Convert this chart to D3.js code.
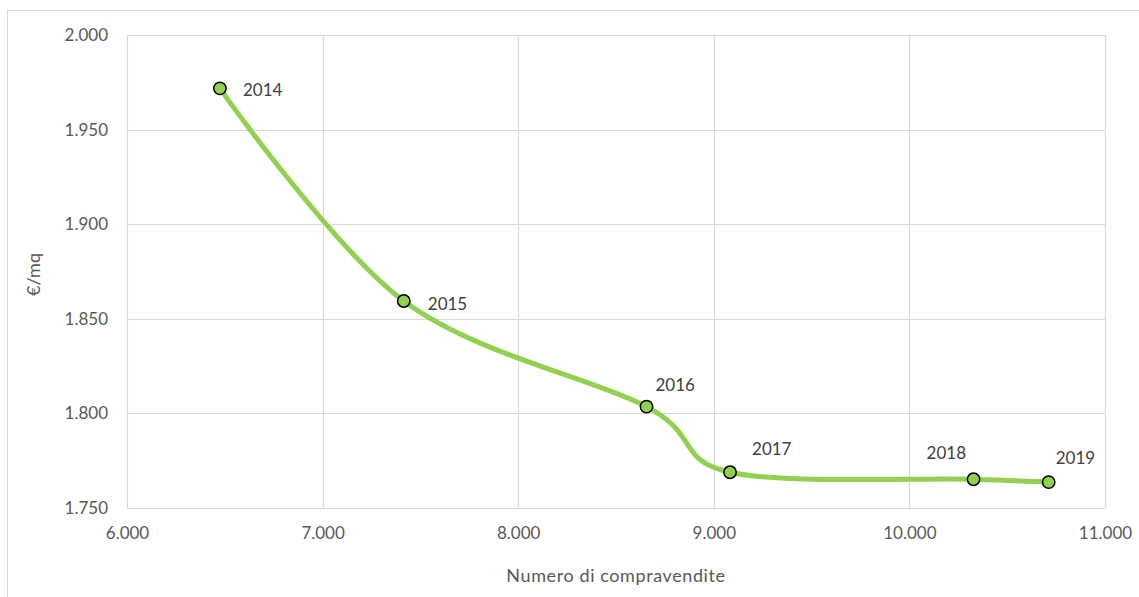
<!DOCTYPE html>
<html>
<head>
<meta charset="utf-8">
<script src="https://cdn.jsdelivr.net/npm/d3@7"></script>
<style>
  html, body { margin: 0; padding: 0; background: #fff; }
  svg { display: block; font-family: Lato, "Open Sans", sans-serif; }
</style>
</head>
<body>
<svg id="chart" width="1139" height="597"></svg>
<script>
// Sales volume vs. price per square metre, one point per year
const years = ["2014", "2015", "2016", "2017", "2018", "2019"];
const compravendite = [6475, 7415, 8656, 9083, 10328, 10712];
const prezzoMq = [1971.8, 1859.4, 1803.6, 1768.9, 1765.2, 1763.7];

const xTicks = [6000, 7000, 8000, 9000, 10000, 11000];
const yTicks = [1750, 1800, 1850, 1900, 1950, 2000];

// Where each year label sits relative to its marker
const labelDx = [23, 24, 9, 22, -47, 7];
const labelDy = [2, 3, -22, -23, -26, -24];

const svg = d3.select("#chart");
const W = 1139, H = 597;
const plot = { left: 127, top: 35, right: 1105, bottom: 508 };

// Italian-style thousands separator
const itNum = d => d3.format(",")(d).replace(/,/g, ".");

// Chart-area frame
svg.append("rect")
  .attr("x", 7.5).attr("y", 10.5)
  .attr("width", W + 20).attr("height", H + 20)
  .attr("fill", "#fff").attr("stroke", "#d9d9d9").attr("stroke-width", 1);

const x = d3.scaleLinear().domain([6000, 11000]).range([plot.left, plot.right]);
const y = d3.scaleLinear().domain([1750, 2000]).range([plot.bottom, plot.top]);

// Gridlines
const grid = svg.append("g").attr("stroke", "#d9d9d9").attr("stroke-width", 1.2);
grid.selectAll("line.v").data(xTicks).join("line")
  .attr("x1", d => Math.round(x(d)) + 0.5).attr("x2", d => Math.round(x(d)) + 0.5)
  .attr("y1", plot.top).attr("y2", plot.bottom);
grid.selectAll("line.h").data(yTicks).join("line")
  .attr("y1", d => Math.round(y(d)) + 0.5).attr("y2", d => Math.round(y(d)) + 0.5)
  .attr("x1", plot.left).attr("x2", plot.right);

// Axes (labels only; the lines come from the gridlines)
const xAxis = svg.append("g")
  .attr("transform", `translate(0,${plot.bottom})`)
  .call(d3.axisBottom(x).tickValues(xTicks).tickSize(0).tickPadding(19).tickFormat(itNum));
xAxis.select(".domain").remove();
xAxis.selectAll("text").attr("fill", "#595959").attr("font-size", 17).attr("font-family", "Lato");

const yAxis = svg.append("g")
  .attr("transform", `translate(${plot.left},0)`)
  .call(d3.axisLeft(y).tickValues(yTicks).tickSize(0).tickPadding(19)
    .tickFormat(d => (d / 1000).toFixed(3)));
yAxis.select(".domain").remove();
yAxis.selectAll("text").attr("fill", "#595959").attr("font-size", 17).attr("font-family", "Lato");

// Axis titles
svg.append("text")
  .attr("x", 616).attr("y", 576).attr("dy", "0.35em")
  .attr("text-anchor", "middle").attr("fill", "#595959").attr("font-size", 18)
  .attr("letter-spacing", 0.6)
  .text("Numero di compravendite");
svg.append("text")
  .attr("transform", `translate(34,${(plot.top + plot.bottom) / 2 + 3}) rotate(-90)`)
  .attr("dy", "0.35em")
  .attr("text-anchor", "middle").attr("fill", "#595959").attr("font-size", 18)
  .text("€/mq");

// Smoothed line
const pts = years.map((yr, i) => ({ yr, cv: compravendite[i], p: prezzoMq[i], i }));
const line = d3.line().x(d => x(d.cv)).y(d => y(d.p)).curve(d3.curveCardinal.tension(0));
svg.append("path").datum(pts)
  .attr("d", line)
  .attr("fill", "none").attr("stroke", "#92d050").attr("stroke-width", 5)
  .attr("stroke-linecap", "round").attr("stroke-linejoin", "round");

// Markers
svg.append("g").selectAll("circle").data(pts).join("circle")
  .attr("cx", d => x(d.cv)).attr("cy", d => y(d.p)).attr("r", 6.2)
  .attr("fill", "#92d050").attr("stroke", "#000").attr("stroke-width", 1.5);

// Year labels
svg.append("g").selectAll("text").data(pts).join("text")
  .attr("x", d => x(d.cv) + labelDx[d.i])
  .attr("y", d => y(d.p) + labelDy[d.i])
  .attr("dy", "0.35em")
  .attr("fill", "#404040").attr("font-size", 17)
  .text(d => d.yr);
</script>
</body>
</html>
